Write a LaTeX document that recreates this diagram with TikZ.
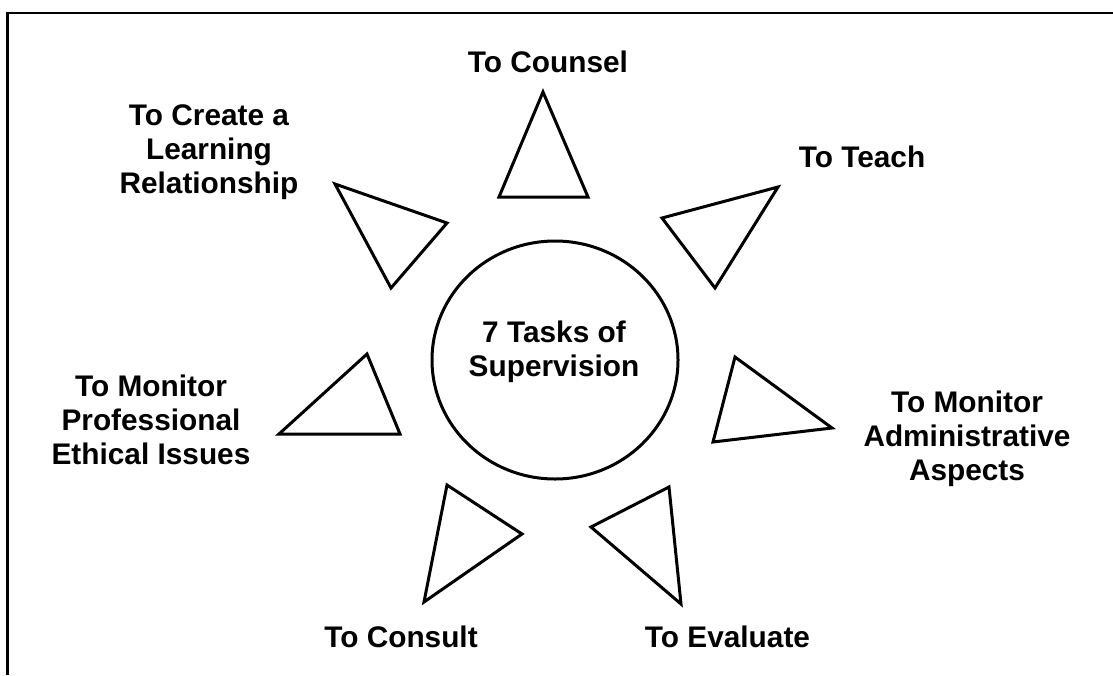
\documentclass[tikz,border=0pt]{standalone}
\usepackage{fontspec}
\setmainfont{Liberation Sans}
\usetikzlibrary{shapes.geometric}
\begin{document}
\begin{tikzpicture}[x=1pt,y=-1pt,
  lbl/.style={font=\bfseries\fontsize{29.8}{34}\selectfont,align=center,inner sep=0pt},
  tri/.style={draw=black,line width=3pt,line join=miter},
  hub/.style={draw=black,line width=3pt,ellipse,minimum width=246pt,minimum height=238pt,inner sep=0pt}]
\useasboundingbox (0,0) rectangle (1113,675);
\fill[white] (0,0) rectangle (1113,675);
% frame
\draw[line width=2.5pt] (1113,13) -- (7.5,13) -- (7.5,675);
% hub
\node[hub] (hub) at (555,360) {};
\node[lbl] (hubtext) at (554,352) {7 Tasks of\\Supervision};
% triangles
\draw[tri] (543,92) -- (588,197) -- (499,197) -- cycle;
\draw[tri] (335,184) -- (447,223) -- (391,288) -- cycle;
\draw[tri] (662,218) -- (778,187) -- (715,288) -- cycle;
\draw[tri] (735,357) -- (832,428) -- (713,442) -- cycle;
\draw[tri] (367,354) -- (400,434) -- (279,434) -- cycle;
\draw[tri] (447,485) -- (522,534) -- (424,602) -- cycle;
\draw[tri] (669,487) -- (681,604) -- (591,527) -- cycle;
% labels
\node[lbl] (counsel) at (548,62) {To Counsel};
\node[lbl] (create) at (209,152) {To Create a\\Learning\\Relationship};
\node[lbl] (teach) at (862,157) {To Teach};
\node[lbl] (ethical) at (151,420) {To Monitor\\Professional\\Ethical Issues};
\node[lbl] (admin) at (967,439) {To Monitor\\Administrative\\Aspects};
\node[lbl] (consult) at (401,637) {To Consult};
\node[lbl] (evaluate) at (727.5,637) {To Evaluate};
\end{tikzpicture}
\end{document}
